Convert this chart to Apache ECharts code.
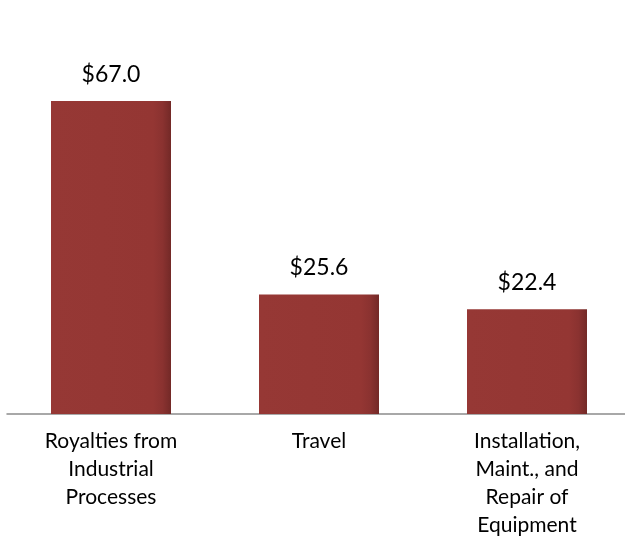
<!DOCTYPE html>
<html>
<head>
<meta charset="utf-8">
<script src="https://cdn.jsdelivr.net/npm/echarts@6/dist/echarts.min.js"></script>
<style>
  html, body { margin: 0; padding: 0; background: #fff; }
  #chart { width: 625px; height: 538px; }
</style>
</head>
<body>
<div id="chart"></div>
<script>
// data
var categories = ['Royalties from\nIndustrial\nProcesses', 'Travel', 'Installation,\nMaint., and\nRepair of\nEquipment'];
var values = [67.0, 25.6, 22.4];

var chart = echarts.init(document.getElementById('chart'));

var barColor = new echarts.graphic.LinearGradient(0, 0, 1, 0, [
    {offset: 0, color: '#963835'},
    {offset: 0.85, color: '#943633'},
    {offset: 0.93, color: '#8a3230'},
    {offset: 1, color: '#732927'}
]);

var option = {
    animation: false,
    grid: {
        left: 7,
        width: 624,
        top: 40.3,
        bottom: 124,
        outerBoundsMode: 'none',
        containLabel: false
    },
    xAxis: {
        type: 'category',
        data: categories,
        axisTick: {show: false},
        axisLine: {lineStyle: {color: '#8c8c8c', width: 1.5}},
        axisLabel: {
            color: '#000',
            fontFamily: 'Lato, "Open Sans", sans-serif',
            fontSize: 21,
            lineHeight: 28,
            margin: 13,
            interval: 0
        }
    },
    yAxis: {
        type: 'value',
        min: 0,
        max: 80,
        show: false
    },
    series: [
        {
            type: 'bar',
            data: values,
            barWidth: 120,
            itemStyle: {color: barColor},
            label: {
                show: true,
                position: 'top',
                distance: 15,
                color: '#000',
                fontFamily: 'Lato, "Open Sans", sans-serif',
                fontSize: 23,
                formatter: function (p) { return '$' + p.value.toFixed(1); }
            }
        }
    ]
};
chart.setOption(option);
</script>
</body>
</html>
